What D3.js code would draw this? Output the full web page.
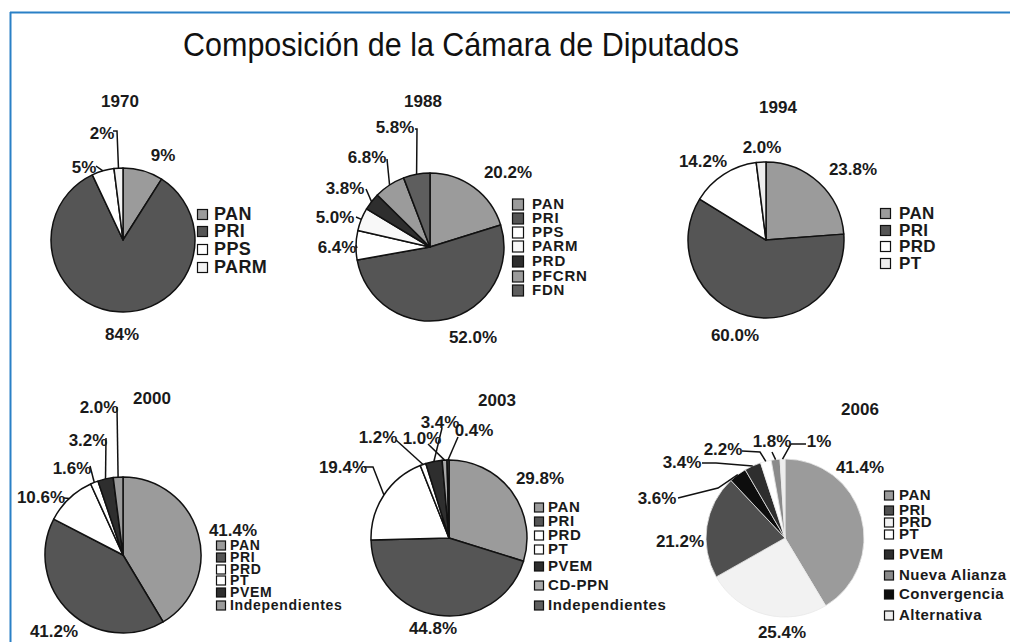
<!DOCTYPE html>
<html><head><meta charset="utf-8">
<script src="https://cdn.jsdelivr.net/npm/d3@7"></script>
<style>
html,body{margin:0;padding:0;background:#fff;}
svg{display:block;}
text{font-family:"Liberation Sans",Arial,sans-serif;}
</style></head><body>
<svg id="chart" width="1010" height="642"></svg>
<script>
// ---------------- DATA ----------------
const title = "Composición de la Cámara de Diputados";
const years = ["1970", "1988", "1994", "2000", "2003", "2006"];

const parties1970 = ["PAN", "PRI", "PPS", "PARM"];
const values1970  = [9, 84, 5, 2];
const labels1970  = ["9%", "84%", "5%", "2%"];

const parties1988 = ["PAN", "PRI", "PPS", "PARM", "PRD", "PFCRN", "FDN"];
const values1988  = [20.2, 52.0, 6.4, 5.0, 3.8, 6.8, 5.8];
const labels1988  = ["20.2%", "52.0%", "6.4%", "5.0%", "3.8%", "6.8%", "5.8%"];

const parties1994 = ["PAN", "PRI", "PRD", "PT"];
const values1994  = [23.8, 60.0, 14.2, 2.0];
const labels1994  = ["23.8%", "60.0%", "14.2%", "2.0%"];

const parties2000 = ["PAN", "PRI", "PRD", "PT", "PVEM", "Independientes"];
const values2000  = [41.4, 41.2, 10.6, 1.6, 3.2, 2.0];
const labels2000  = ["41.4%", "41.2%", "10.6%", "1.6%", "3.2%", "2.0%"];

const parties2003 = ["PAN", "PRI", "PRD", "PT", "PVEM", "CD-PPN", "Independientes"];
const values2003  = [29.8, 44.8, 19.4, 1.2, 3.4, 1.0, 0.4];
const labels2003  = ["29.8%", "44.8%", "19.4%", "1.2%", "3.4%", "1.0%", "0.4%"];

const parties2006 = ["PAN", "PRD", "PRI", "Convergencia", "PVEM", "PT", "Nueva Alianza", "Alternativa"];
const values2006  = [41.4, 25.4, 21.2, 3.6, 3.4, 2.2, 1.8, 1];
const labels2006  = ["41.4%", "25.4%", "21.2%", "3.6%", "3.4%", "2.2%", "1.8%", "1%"];
const legend2006  = ["PAN", "PRI", "PRD", "PT", "PVEM", "Nueva Alianza", "Convergencia", "Alternativa"];

// ---------------- LAYOUT / STYLE ----------------
const layout = {
  "1970": {cx:123, cy:240, r:72, ty:[120,101], outline:"#111",
    colors:{PAN:"#9b9b9b", PRI:"#555555", PPS:"#ffffff", PARM:"#f3f3f3"},
    legend:{sx:197, tx:214, ys:[214,231,249,267], fs:18, sq:10, ls:0.4},
    lab:[{x:163,y:155},{x:122,y:334},{x:84,y:167,lead:[[96,166]]},{x:102,y:133,lead:[[113,131],[117,131]]}]},
  "1988": {cx:430, cy:247, r:74, ty:[423,101], outline:"#111",
    colors:{PAN:"#9b9b9b", PRI:"#555555", PPS:"#ffffff", PARM:"#f8f8f8", PRD:"#2e2e2e", PFCRN:"#9b9b9b", FDN:"#5e5e5e"},
    legend:{sx:512, tx:532, ys:[204,218,232,246,261,276,290], fs:15, sq:11, ls:0.8},
    lab:[{x:508,y:172},{x:473,y:337},{x:337,y:247,lead:[[357,248]]},{x:335,y:217,lead:[[356,217]]},
         {x:345,y:188,lead:[[366,189]]},{x:367,y:157,lead:[[387,159]]},{x:395,y:127,lead:[[415,129],[417,129]]}]},
  "1994": {cx:766, cy:240, r:78, ty:[778,107], outline:"#111",
    colors:{PAN:"#9b9b9b", PRI:"#555555", PRD:"#ffffff", PT:"#efefef"},
    legend:{sx:880, tx:899, ys:[213,230,246,263], fs:17, sq:10, ls:0.3},
    lab:[{x:853,y:169},{x:735,y:335},{x:703,y:161},{x:762,y:147}]},
  "2000": {cx:123, cy:555, r:78, ty:[152,398], outline:"#111",
    colors:{PAN:"#9b9b9b", PRI:"#555555", PRD:"#ffffff", PT:"#ffffff", PVEM:"#2e2e2e", Independientes:"#9b9b9b"},
    legend:{sx:216, tx:230, ys:[545,557,569,580,592,605], fs:14, sq:9, ls:0.7},
    lab:[{x:233,y:530},{x:54,y:631},{x:41,y:497,lead:[[64,498]]},{x:72,y:468,lead:[[90,466]]},
         {x:88,y:440,lead:[[106,438]]},{x:99,y:407,lead:[[117,407]]}]},
  "2003": {cx:449, cy:538, r:78, ty:[497,400], outline:"#111",
    colors:{PAN:"#9b9b9b", PRI:"#555555", PRD:"#ffffff", PT:"#ffffff", PVEM:"#2e2e2e", "CD-PPN":"#a8a8a8", Independientes:"#5e5e5e"},
    legend:{sx:534, tx:548, ys:[507,521,535,549,566,585,605], fs:15, sq:9, ls:0.6},
    lab:[{x:540,y:478},{x:433,y:628},{x:343,y:467,lead:[[364,467],[373,467]]},{x:378,y:437,lead:[[396,440]]},
         {x:440,y:422,lead:[[442,428]]},{x:422,y:438,lead:[[428,444]]},{x:474,y:430,lead:[[458,437]]}]},
  "2006": {cx:785, cy:538, r:79, ty:[860,409], outline:"#e8e8e8",
    colors:{PAN:"#9b9b9b", PRD:"#f2f2f2", PRI:"#4f4f4f", Convergencia:"#0d0d0d", PVEM:"#2e2e2e", PT:"#ffffff", "Nueva Alianza":"#8a8a8a", Alternativa:"#eeeeee"},
    legend:{sx:884, tx:899, ys:[495,510,522,534,554,575,594,615], fs:15, sq:9, ls:0.5},
    lab:[{x:860,y:467},{x:782,y:632},{x:680,y:541},{x:657,y:498,lead:[[678,498],[718,488]]},
         {x:682,y:462,lead:[[702,463],[716,463]]},{x:723,y:449,lead:[[742,451],[760,452]]},
         {x:772,y:441,lead:[[772,452]]},{x:819,y:441,lead:[[806,444],[791,444]]}]}
};

const charts = [
  {year:years[0], parties:parties1970, values:values1970, labels:labels1970, legend:parties1970},
  {year:years[1], parties:parties1988, values:values1988, labels:labels1988, legend:parties1988},
  {year:years[2], parties:parties1994, values:values1994, labels:labels1994, legend:parties1994},
  {year:years[3], parties:parties2000, values:values2000, labels:labels2000, legend:parties2000},
  {year:years[4], parties:parties2003, values:values2003, labels:labels2003, legend:parties2003},
  {year:years[5], parties:parties2006, values:values2006, labels:labels2006, legend:legend2006}
];

// ---------------- DRAW ----------------
const svg = d3.select("#chart");
svg.append("rect").attr("width",1010).attr("height",642).attr("fill","#fff");

// frame
svg.append("line").attr("x1",10).attr("x2",1010).attr("y1",12.5).attr("y2",12.5)
   .attr("stroke","#2a80c6").attr("stroke-width",2);
svg.append("line").attr("x1",10.5).attr("x2",10.5).attr("y1",12).attr("y2",642)
   .attr("stroke","#2a80c6").attr("stroke-width",2);

svg.append("text").attr("x",461).attr("y",56).attr("text-anchor","middle")
   .attr("font-size",33).attr("fill","#111")
   .attr("textLength",556).attr("lengthAdjust","spacingAndGlyphs")
   .text(title);

const pie = d3.pie().sort(null).value(d => d.value);
const line = d3.line();

charts.forEach(ch => {
  const L = layout[ch.year];
  const data = ch.parties.map((p,i) => ({party:p, value:ch.values[i], label:ch.labels[i], lay:L.lab[i]}));
  const color = d3.scaleOrdinal().domain(Object.keys(L.colors)).range(Object.values(L.colors));
  const arc = d3.arc().innerRadius(0).outerRadius(L.r);
  const arcs = pie(data);

  const g = svg.append("g").attr("transform",`translate(${L.cx},${L.cy})`);
  g.selectAll("path").data(arcs).join("path")
    .attr("d",arc)
    .attr("fill",d => color(d.data.party))
    .attr("stroke",L.outline)
    .attr("stroke-width",L.outline === "#111" ? 1.5 : 0.8)
    .attr("stroke-linejoin","round");

  // year title
  svg.append("text").attr("x",L.ty[0]).attr("y",L.ty[1]).attr("dy","0.35em")
    .attr("text-anchor","middle").attr("font-size",17).attr("font-weight","bold")
    .attr("fill","#1a1a1a").text(ch.year);

  // leaders
  arcs.forEach(d => {
    const lay = d.data.lay;
    if (!lay.lead) return;
    const a = (d.startAngle + d.endAngle)/2;
    const end = [L.cx + L.r*Math.sin(a), L.cy - L.r*Math.cos(a)];
    svg.append("path").attr("d", line([...lay.lead, end]))
      .attr("fill","none").attr("stroke","#111").attr("stroke-width",1.5);
  });

  // labels
  arcs.forEach(d => {
    const lay = d.data.lay;
    svg.append("text").attr("x",lay.x).attr("y",lay.y).attr("dy","0.35em")
      .attr("text-anchor","middle").attr("font-size",17).attr("font-weight","bold")
      .attr("fill","#1a1a1a").text(d.data.label);
  });

  // legend
  const lg = L.legend;
  ch.legend.forEach((p,i) => {
    const y = lg.ys[i];
    svg.append("rect").attr("x",lg.sx+0.5).attr("y",y-lg.sq/2+0.5)
      .attr("width",lg.sq).attr("height",lg.sq)
      .attr("fill",color(p)).attr("stroke","#111").attr("stroke-width",1.2);
    svg.append("text").attr("x",lg.tx).attr("y",y).attr("dy","0.36em")
      .attr("font-size",lg.fs).attr("font-weight","bold").attr("fill","#1a1a1a")
      .attr("letter-spacing",lg.ls)
      .text(p);
  });
});
</script>
</body></html>
